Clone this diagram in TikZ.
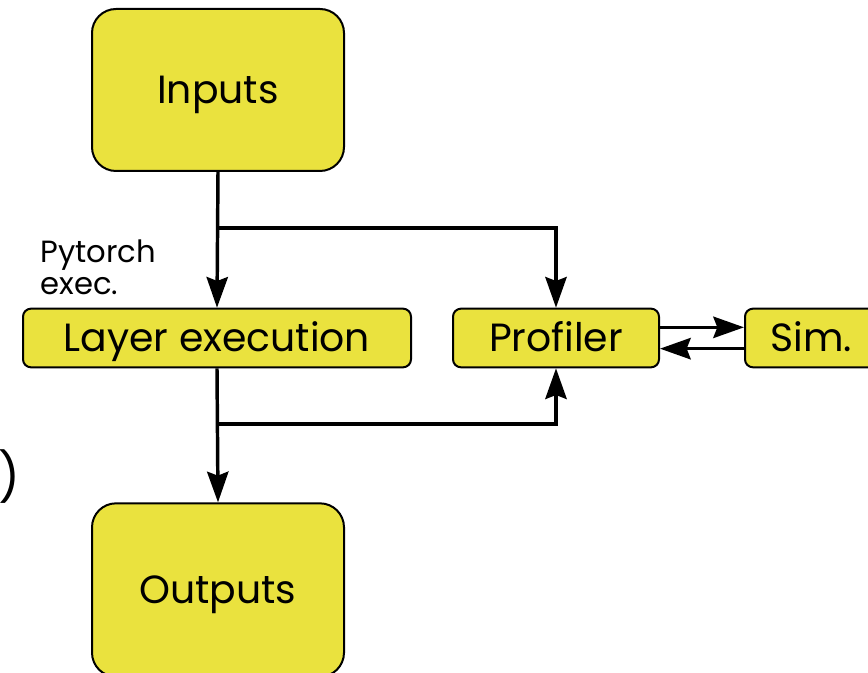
\documentclass[tikz,border=0pt]{standalone}
\usepackage{fontspec}
\setmainfont{Poppins}
\usetikzlibrary{arrows.meta}

\definecolor{boxyellow}{RGB}{234,226,62}

\tikzset{every picture/.style={line width=0.75pt}}
\tikzset{
  label font/.style={font=\fontsize{29.5}{32}\selectfont, text height=20.8pt, text depth=0pt},
  block/.style={draw, fill=boxyellow, line width=1.5, rounded corners=18, inner sep=0pt, label font},
  bar/.style={draw, fill=boxyellow, line width=1.5, rounded corners=6, inner sep=0pt, label font},
  flow/.style={line width=2.6, -{Stealth[length=23pt,width=16pt,inset=3pt]}},
}

\begin{document}
\begin{tikzpicture}[x=0.75pt,y=0.75pt,yscale=-1,xscale=1]
\useasboundingbox (0,0) rectangle (868,673);

% Big boxes
\node [block, minimum width=189pt, minimum height=121.5pt] (inputs) at (218,90) {Inputs};
\node [block, minimum width=189pt, minimum height=130pt] (outputs) at (218,590) {Outputs};

% Bars
\node [bar, minimum width=291pt, minimum height=44pt] (layer) at (217,338) {Layer execution};
\node [bar, minimum width=154.5pt, minimum height=44pt] (profiler) at (556,338) {Profiler};
\node [bar, minimum width=99pt, minimum height=44pt] (sim) at (811,338) {Sim.};

% Text Node
\node [anchor=north west, align=left, inner sep=0pt, font=\fontsize{23}{24}\selectfont] (pytorch) at (40,239) {Pytorch\\exec.};
% Text Node
\node [inner sep=0pt, font=\rmfamily\fontsize{36}{36}\selectfont] (paren) at (9,477) {)};

% Branch points
\coordinate (split1) at (218,228);
\coordinate (split2) at (218,424);

% Connectors
\draw [flow] (inputs.south) -- (layer.north);
\draw [flow] (split1) -| (profiler.north);
\draw [flow] (layer.south) -- (outputs.north);
\draw [flow] (split2) -| (profiler.south);
\draw [flow] ([yshift=-8pt]profiler.east) -- ([yshift=-8pt]sim.west);
\draw [flow] ([yshift=8pt]sim.west) -- ([yshift=8pt]profiler.east);

\end{tikzpicture}
\end{document}
